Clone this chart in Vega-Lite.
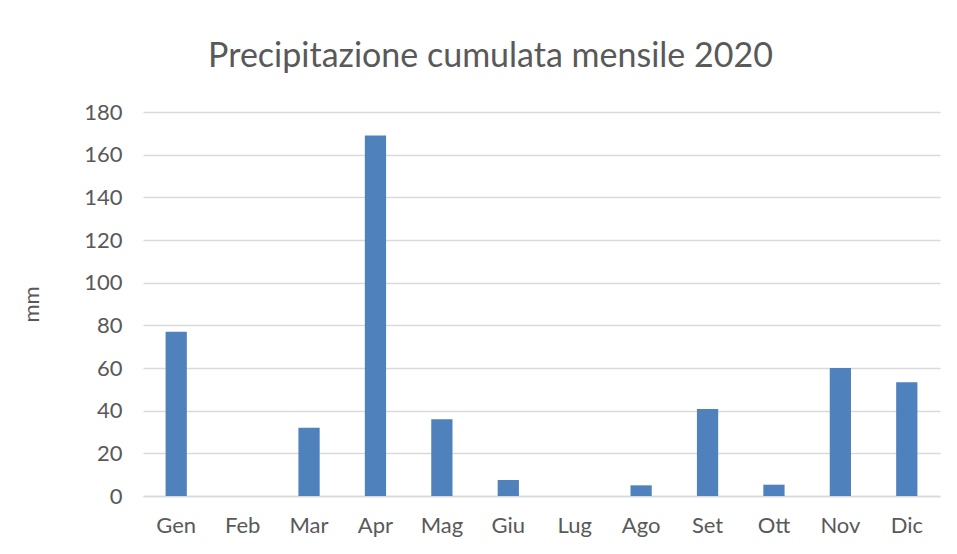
{
  "$schema": "https://vega.github.io/schema/vega-lite/v6.json",
  "width": 797,
  "height": 384,
  "autosize": {"type": "none"},
  "padding": {"top": 112, "left": 143, "right": 17, "bottom": 58},
  "background": "white",
  "config": {
    "font": "Lato",
    "view": {"stroke": null},
    "axis": {"labelColor": "#595959", "titleColor": "#595959", "labelFont": "Lato", "titleFont": "Lato"}
  },
  "title": {
    "text": "Precipitazione cumulata mensile 2020",
    "fontSize": 34,
    "fontWeight": "normal",
    "color": "#595959",
    "font": "Lato",
    "anchor": "middle",
    "dx": -51,
    "offset": 27
  },
  "data": {
    "values": [
      {"mese": "Gen", "mm": 77},
      {"mese": "Feb", "mm": 0},
      {"mese": "Mar", "mm": 32},
      {"mese": "Apr", "mm": 169},
      {"mese": "Mag", "mm": 36},
      {"mese": "Giu", "mm": 7.5},
      {"mese": "Lug", "mm": 0},
      {"mese": "Ago", "mm": 5},
      {"mese": "Set", "mm": 40.8},
      {"mese": "Ott", "mm": 5.3},
      {"mese": "Nov", "mm": 60},
      {"mese": "Dic", "mm": 53.3}
    ]
  },
  "mark": {"type": "bar", "color": "#4F81BD"},
  "encoding": {
    "x": {
      "field": "mese",
      "type": "nominal",
      "sort": null,
      "scale": {"paddingInner": 0.68, "paddingOuter": 0.34},
      "axis": {
        "title": null,
        "labelAngle": 0,
        "labelFontSize": 22,
        "labelPadding": 19,
        "ticks": false,
        "domain": true,
        "domainColor": "#D9D9D9",
        "domainWidth": 1.5
      }
    },
    "y": {
      "field": "mm",
      "type": "quantitative",
      "scale": {"domain": [0, 180], "nice": false},
      "axis": {
        "title": "mm",
        "titleFontSize": 22,
        "titleFontWeight": "normal",
        "titlePadding": 40,
        "values": [0, 20, 40, 60, 80, 100, 120, 140, 160, 180],
        "labelFontSize": 22,
        "labelPadding": 21,
        "ticks": false,
        "domain": false,
        "grid": true,
        "gridColor": "#D9D9D9",
        "gridWidth": 1.5
      }
    }
  }
}
